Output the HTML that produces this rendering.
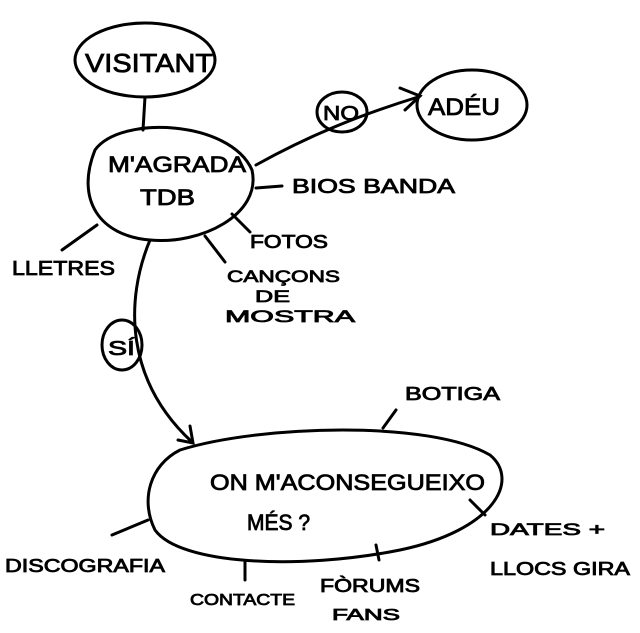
<!DOCTYPE html>
<html>
<head>
<meta charset="utf-8">
<style>
html,body{margin:0;padding:0;background:#fff;}
svg{display:block;}
text{font-family:"Liberation Sans",sans-serif;fill:#000;font-weight:normal;stroke:#000;stroke-width:0.8;}
.s{fill:none;stroke:#000;stroke-width:3;stroke-linecap:round;}
</style>
</head>
<body>
<svg width="640" height="633" viewBox="0 0 640 633">
  <g>
    <ellipse class="s" cx="145" cy="60" rx="70" ry="37"/>
    <text x="85" y="72" font-size="26" textLength="128" lengthAdjust="spacingAndGlyphs">VISITANT</text>
  </g>
  <path class="s" d="M145 97 L143 130"/>
  <g>
    <path class="s" d="M95 150 C120 115 230 120 252 170 C262 215 200 245 150 240 C100 236 75 200 95 150 Z"/>
    <text x="108" y="172" font-size="22" textLength="138" lengthAdjust="spacingAndGlyphs">M'AGRADA</text>
    <text x="140" y="205" font-size="22" textLength="55" lengthAdjust="spacingAndGlyphs">TDB</text>
  </g>
  <g>
    <path class="s" d="M256 165 C310 135 360 115 418 97"/>
    <path class="s" d="M400 88 L420 96 L405 110"/>
    <ellipse class="s" cx="342" cy="112" rx="25" ry="20"/>
    <text x="323" y="120" font-size="20" textLength="36" lengthAdjust="spacingAndGlyphs">NO</text>
  </g>
  <g>
    <ellipse class="s" cx="472" cy="105" rx="55" ry="35"/>
    <text x="428" y="115" font-size="24" textLength="72" lengthAdjust="spacingAndGlyphs">ADÉU</text>
  </g>
  <path class="s" d="M256 188 L282 186"/>
  <text x="292" y="193" font-size="20" textLength="163" lengthAdjust="spacingAndGlyphs">BIOS BANDA</text>
  <path class="s" d="M232 214 L250 232"/>
  <text x="250" y="248" font-size="18" textLength="78" lengthAdjust="spacingAndGlyphs">FOTOS</text>
  <path class="s" d="M205 236 L225 262"/>
  <g>
    <text x="227" y="282" font-size="17" textLength="113" lengthAdjust="spacingAndGlyphs">CANÇONS</text>
    <text x="255" y="302" font-size="17" textLength="35" lengthAdjust="spacingAndGlyphs">DE</text>
    <text x="225" y="322" font-size="17" textLength="130" lengthAdjust="spacingAndGlyphs">MOSTRA</text>
  </g>
  <path class="s" d="M97 225 L62 250"/>
  <text x="12" y="275" font-size="20" textLength="103" lengthAdjust="spacingAndGlyphs">LLETRES</text>
  <g>
    <path class="s" d="M150 240 C125 300 125 380 192 442"/>
    <path class="s" d="M178 440 L193 443 L190 426"/>
    <ellipse class="s" cx="122" cy="345" rx="20" ry="25"/>
    <text x="108" y="355" font-size="20" textLength="27" lengthAdjust="spacingAndGlyphs">SÍ</text>
  </g>
  <g>
    <path class="s" d="M180 450 C260 425 430 420 490 455 C520 480 495 530 400 550 C300 570 180 565 155 530 C140 500 150 465 180 450 Z"/>
    <text x="210" y="490" font-size="22" textLength="275" lengthAdjust="spacingAndGlyphs">ON M'ACONSEGUEIXO</text>
    <text x="247" y="530" font-size="22" textLength="63" lengthAdjust="spacingAndGlyphs">MÉS ?</text>
  </g>
  <path class="s" d="M383 428 L396 410"/>
  <text x="405" y="400" font-size="18" textLength="95" lengthAdjust="spacingAndGlyphs">BOTIGA</text>
  <path class="s" d="M148 520 L112 535"/>
  <text x="5" y="572" font-size="18" textLength="160" lengthAdjust="spacingAndGlyphs">DISCOGRAFIA</text>
  <path class="s" d="M245 562 L245 580"/>
  <text x="190" y="605" font-size="16" textLength="105" lengthAdjust="spacingAndGlyphs">CONTACTE</text>
  <path class="s" d="M376 545 L379 560"/>
  <g>
    <text x="320" y="592" font-size="18" textLength="100" lengthAdjust="spacingAndGlyphs">FÒRUMS</text>
    <text x="332" y="620" font-size="16" textLength="68" lengthAdjust="spacingAndGlyphs">FANS</text>
  </g>
  <path class="s" d="M470 500 L485 515"/>
  <g>
    <text x="490" y="535" font-size="17" textLength="115" lengthAdjust="spacingAndGlyphs">DATES +</text>
    <text x="490" y="575" font-size="18" textLength="140" lengthAdjust="spacingAndGlyphs">LLOCS GIRA</text>
  </g>
</svg>
</body>
</html>
